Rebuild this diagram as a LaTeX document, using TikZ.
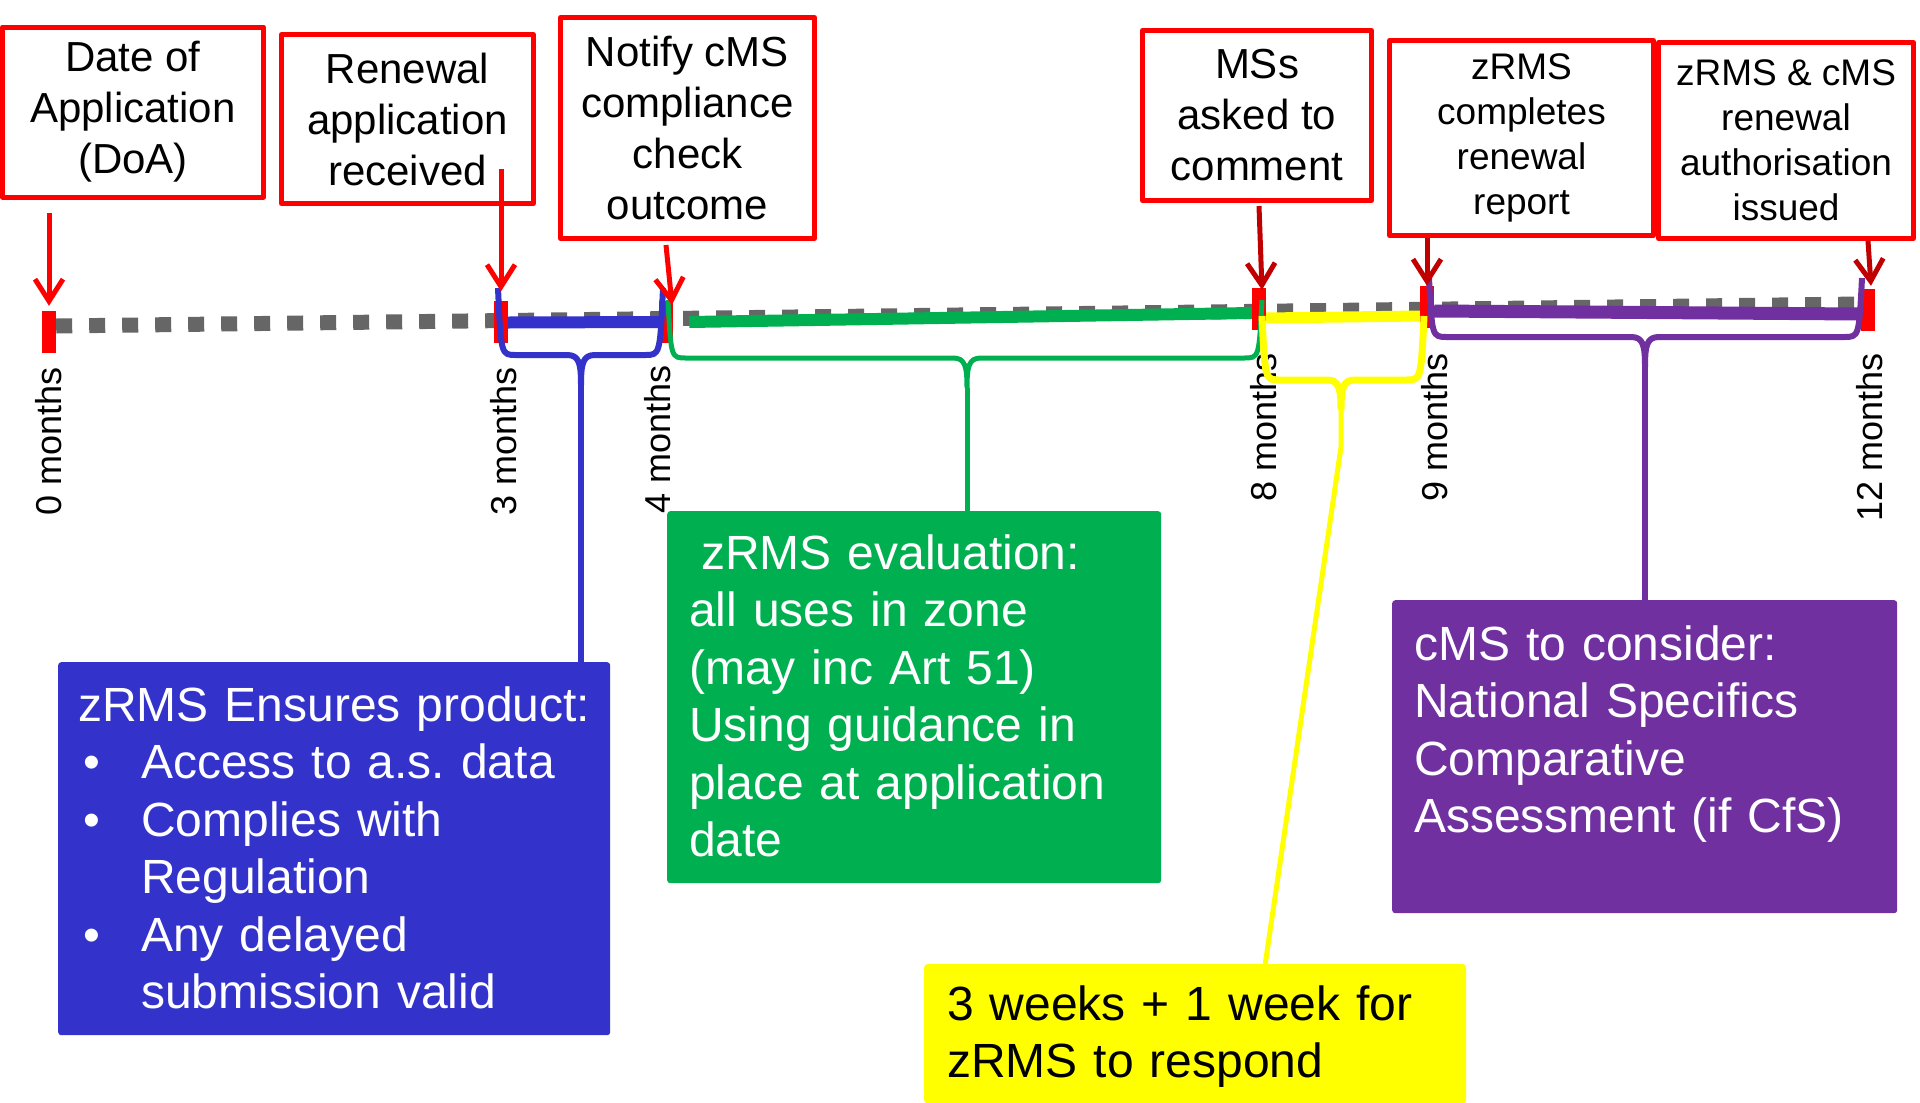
\documentclass[tikz,border=0pt]{standalone}
\usepackage{fontspec}
\setmainfont{Liberation Sans}
\usetikzlibrary{arrows.meta}
\usetikzlibrary{positioning}
\usetikzlibrary{calc}
\usetikzlibrary{backgrounds}
\frenchspacing

\definecolor{zblue}{HTML}{3333CC}
\definecolor{zgreen}{HTML}{00B050}
\definecolor{zpurple}{HTML}{7030A0}
\definecolor{zyellow}{HTML}{FFFF00}
\definecolor{zgrey}{HTML}{666666}
\definecolor{darkred}{HTML}{C00000}

% left x, right x, top y, bottom y, tip x
\newcommand{\spanbrace}[5]{%
  (#1,#3) .. controls (#1+3,#4) and (#1+3,#4) .. (#1+18,#4) -- (#5-14,#4)
  .. controls (#5-2,#4) and (#5,#4+8) .. (#5,#4+30)
  (#2,#3) .. controls (#2-3,#4) and (#2-3,#4) .. (#2-18,#4) -- (#5+14,#4)
  .. controls (#5+2,#4) and (#5,#4+8) .. (#5,#4+30)}

\begin{document}
\begin{tikzpicture}[x=1pt,y=-1pt,line join=round,
    event/.style={draw=red,line width=5pt,align=center,inner sep=0pt,
      font=\fontsize{42}{51}\selectfont},
    smallevent/.style={event,font=\fontsize{37}{45}\selectfont},
    tick/.style={fill=red,minimum width=14pt,minimum height=42pt,inner sep=0pt},
    month/.style={rotate=90,anchor=east,inner sep=0pt,font=\fontsize{36}{43}\selectfont},
    panel/.style={anchor=north west,inner xsep=22pt,inner ysep=0pt,align=left,
      rounded corners=3pt,text=white,font=\fontsize{48}{57.5}\selectfont},
    redarrow/.style={red,line width=5pt,-{Straight Barb[length=22pt,width=28pt]}},
    darkarrow/.style={redarrow,darkred},
    timeline/.style={zgrey,line width=15pt,dash pattern=on 16pt off 17pt},
    bar/.style={line width=12pt}]

  \useasboundingbox (0,0) rectangle (1920,1103);

  % milestones
  \node[event,minimum width=261pt,minimum height=170pt] (doa) at (133,112)
    {Date of\\Application\\(DoA)};
  \node[event,minimum width=252pt,minimum height=169pt] (received) at (407.5,119)
    {Renewal\\application\\received};
  \node[event,minimum width=254pt,minimum height=221pt] (notify) at (687.5,128)
    {Notify cMS\\compliance\\check\\outcome};
  \node[event,minimum width=229pt,minimum height=170pt] (comment) at (1257,115.5)
    {MSs\\asked to\\comment};
  \node[smallevent,minimum width=264pt,minimum height=195pt] (report) at (1521.5,138)
    {zRMS\\completes\\renewal\\report};
  \node[smallevent,minimum width=255pt,minimum height=196pt] (issued) at (1786,140.5)
    {zRMS \& cMS\\renewal\\authorisation\\issued};

  % month ticks
  \node[tick] (t0)  at (49,332)   {};
  \node[tick] (t3)  at (501,321.5) {};
  \node[tick] (t4)  at (666,322)  {};
  \node[tick] (t8)  at (1259,309) {};
  \node[tick] (t9)  at (1427,307) {};
  \node[tick] (t12) at (1868,310) {};

  \begin{scope}[on background layer]
    \draw[timeline] ([yshift=6pt]t0.east) -- ([yshift=6pt]t12.west);
  \end{scope}

  \node[month] (m0)  at (49,367)   {0 months};
  \node[month] (m3)  at (504,367)  {3 months};
  \node[month] (m4)  at (658,365)  {4 months};
  \node[month] (m8)  at (1264,353) {8 months};
  \node[month] (m9)  at (1435,353) {9 months};
  \node[month] (m12) at (1870,353) {12 months};

  % phase bars
  \draw[bar,zblue] ([yshift=-1pt]t3.east) -- (t4.west);
  \draw[bar,zgreen] ([xshift=16pt]t4.east) -- ([yshift=-4pt]t8.west);
  \draw[bar,zyellow,line width=11pt] ([yshift=-9pt]t8.east) -- ([yshift=-9pt]t9.west);
  \draw[bar,zpurple,line width=13pt] ([yshift=-4pt]t9.east) -- ([yshift=-4pt]t12.west);

  % braces
  \draw[zblue,line width=6pt] \spanbrace{498}{663}{288}{355}{581};
  \draw[zgreen,line width=5pt] \spanbrace{668}{1262}{300}{358}{967};
  \draw[zyellow,line width=7pt] \spanbrace{1262}{1424}{316}{380}{1341};
  \draw[zpurple,line width=6pt] \spanbrace{1429}{1862}{278}{337}{1645};
  \coordinate (bluetip)   at (581,385);
  \coordinate (greentip)  at (967,388);
  \coordinate (yellowtip) at (1341,410);
  \coordinate (purpletip) at (1645,367);

  % arrows
  \draw[redarrow] ($(doa.south -| t0.north)+(0,13)$) -- ($(t0.north)+(0,-5)$);
  \draw[redarrow] ($(received.south -| t3.north)+(0,-37)$) -- ($(t3.north)+(0,-9)$);
  \draw[redarrow] ($(notify.south -| t4.north)+(0,4)$) -- ($(t4.north)+(6,4)$);
  \draw[darkarrow] ($(comment.south -| t8.north)+(0,3)$) -- ($(t8.north)+(3,2)$);
  \draw[darkarrow] (report.south -| t9.north) -- (t9.north);
  \draw[darkarrow] (issued.south -| t12.north) -- ($(t12.north)+(3,-3)$);

  % phase panels
  \node[panel,fill=zblue,inner xsep=20pt,text width=512pt,text height=59pt,text depth=314pt]
    (ensure) at (58,662)
    {\mbox{zRMS Ensures product:}\\
     \hspace*{5pt}\makebox[58pt][l]{•}Access to a.s. data\\
     \hspace*{5pt}\makebox[58pt][l]{•}Complies with\\
     \hspace*{63pt}Regulation\\
     \hspace*{5pt}\makebox[58pt][l]{•}Any delayed\\
     \hspace*{63pt}submission valid};
  \node[panel,fill=zgreen,text width=450pt,text height=58pt,text depth=314pt]
    (evaluation) at (667,511)
    {\hspace*{12pt}zRMS evaluation:\\
     all uses in zone\\
     (may inc Art 51)\\
     Using guidance in\\
     place at application\\
     date};
  \node[panel,fill=zpurple,text width=461pt,text height=60pt,text depth=253pt]
    (consider) at (1392,600)
    {cMS to consider:\\
     National Specifics\\
     Comparative\\
     Assessment (if CfS)};
  \node[panel,fill=zyellow,text=black,inner xsep=23pt,text width=496pt,text height=56pt,text depth=83pt]
    (respond) at (924,964)
    {3 weeks + 1 week for\\
     zRMS to respond};

  % leaders
  \draw[zblue,line width=6pt] (bluetip) -- (bluetip |- ensure.north);
  \draw[zgreen,line width=5pt] (greentip) -- (greentip |- evaluation.north);
  \draw[zyellow,line width=5pt] (yellowtip) -- ++(0,37) -- ([xshift=70pt]respond.north);
  \draw[zpurple,line width=6pt] (purpletip) -- (purpletip |- consider.north);
\end{tikzpicture}
\end{document}
